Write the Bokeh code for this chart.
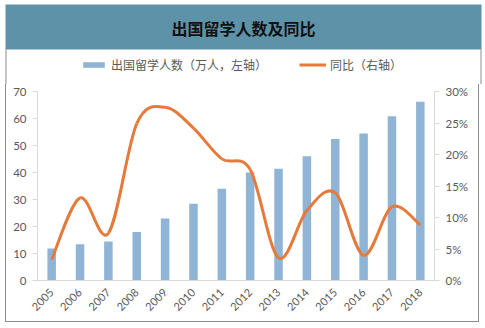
import math
from bokeh.plotting import figure
from bokeh.models import (FactorRange, Range1d, LinearAxis, FixedTicker,
                          Legend, LegendItem, ColumnDataSource, NumeralTickFormatter)
from bokeh.core.properties import value
from bokeh.embed import file_html
from bokeh.resources import INLINE

years = ["2005", "2006", "2007", "2008", "2009", "2010", "2011", "2012",
         "2013", "2014", "2015", "2016", "2017", "2018"]
students = [11.85, 13.4, 14.4, 17.98, 22.93, 28.47, 33.97, 39.96,
            41.39, 45.98, 52.37, 54.45, 60.84, 66.21]
yoy = [0.033, 0.131, 0.075, 0.249, 0.275, 0.242, 0.193, 0.176,
       0.036, 0.111, 0.139, 0.040, 0.117, 0.088]
left_ticks = [0, 10, 20, 30, 40, 50, 60, 70]
right_ticks = [0, 0.05, 0.10, 0.15, 0.20, 0.25, 0.30]

title_text = "出国留学人数及同比"
bar_label = "出国留学人数（万人，左轴）"
line_label = "同比（右轴）"

BAR_COLOR = "#8FB4D6"
LINE_COLOR = "#E57A3A"
BORDER = "#8C8C8C"
TEXT_GRAY = "#595959"
CJK = "Noto Sans CJK SC"

# ---------------- header: title band + legend ----------------
header = figure(width=485, height=84, x_range=Range1d(0, 485), y_range=Range1d(84, 0),
                output_backend="svg", toolbar_location=None,
                min_border_left=0, min_border_right=0, min_border_top=0, min_border_bottom=0,
                x_axis_location=None, y_axis_location=None)
header.grid.visible = False
header.outline_line_color = None
header.background_fill_color = "white"
header.border_fill_color = "white"
header.quad(left=[5], right=[481], top=[4], bottom=[49], fill_color="#5E92A8", line_color=None)
header.segment(x0=[5.5, 480.5], y0=[49, 49], x1=[5.5, 480.5], y1=[84, 84],
               line_color=BORDER, line_width=1)
header.text(x=[243], y=[27], text=[title_text], text_align="center", text_baseline="middle",
            text_font=value(CJK), text_font_style="bold", text_font_size="16px",
            text_color="#111111")
# legend proxies (kept outside the visible header range)
leg_bar = header.vbar(x=[-100], top=[-100], bottom=[-110], width=1,
                      fill_color=BAR_COLOR, line_color=None)
leg_line = header.line(x=[-110, -100], y=[-100, -100], line_color=LINE_COLOR, line_width=3)
legend = Legend(items=[LegendItem(label=bar_label, renderers=[leg_bar]),
                       LegendItem(label=line_label, renderers=[leg_line])],
                orientation="horizontal", location=(80, 11),
                background_fill_alpha=0, border_line_color=None,
                glyph_width=27, glyph_height=7, label_standoff=4, spacing=32,
                padding=0, margin=0, label_height=14,
                label_text_font=CJK, label_text_font_size="12px",
                label_text_color=TEXT_GRAY)
header.add_layout(legend)

# ---------------- main chart ----------------
p = figure(width=474, height=238, x_range=FactorRange(*years), y_range=Range1d(0, 70),
           output_backend="svg", toolbar_location=None,
           min_border_left=31, min_border_right=46, min_border_top=7, min_border_bottom=42,
           styles={"border-left": f"1px solid {BORDER}", "border-right": f"1px solid {BORDER}",
                   "border-bottom": f"1px solid {BORDER}", "margin-left": "5px"})
p.background_fill_color = "white"
p.border_fill_color = "white"
p.outline_line_color = None
p.grid.visible = False
p.extra_y_ranges = {"pct": Range1d(0, 0.30)}

p.vbar(x=years, top=students, width=0.3, fill_color=BAR_COLOR, line_color=None)

# smoothed line: bezier segments whose control points are derived from the data
xs = [i + 0.5 for i in range(len(years))]
n = len(xs)
seg = {k: [] for k in ("x0", "y0", "x1", "y1", "cx0", "cy0", "cx1", "cy1")}
for i in range(n - 1):
    im1 = max(i - 1, 0)
    ip2 = min(i + 2, n - 1)
    seg["x0"].append(xs[i]); seg["y0"].append(yoy[i])
    seg["x1"].append(xs[i + 1]); seg["y1"].append(yoy[i + 1])
    seg["cx0"].append(xs[i] + (xs[i + 1] - xs[im1]) / 6)
    seg["cy0"].append(yoy[i] + (yoy[i + 1] - yoy[im1]) / 6)
    seg["cx1"].append(xs[i + 1] - (xs[ip2] - xs[i]) / 6)
    seg["cy1"].append(yoy[i + 1] - (yoy[ip2] - yoy[i]) / 6)
p.bezier(x0="x0", y0="y0", x1="x1", y1="y1", cx0="cx0", cy0="cy0", cx1="cx1", cy1="cy1",
         source=ColumnDataSource(seg), line_color=LINE_COLOR, line_width=3, y_range_name="pct")

tick_font = "Lato"
yl = p.yaxis[0]
yl.ticker = FixedTicker(ticks=left_ticks)
yr = LinearAxis(y_range_name="pct", ticker=FixedTicker(ticks=right_ticks),
                formatter=NumeralTickFormatter(format="0%"))
p.add_layout(yr, "right")
for ax in (yl, yr):
    ax.axis_line_color = "#D9D9D9"
    ax.major_tick_line_color = "#D9D9D9"
    ax.major_tick_out = 5
    ax.major_tick_in = 0
    ax.minor_tick_line_color = None
    ax.major_label_text_font = tick_font
    ax.major_label_text_font_size = "11.5px"
    ax.major_label_text_color = TEXT_GRAY
    ax.major_label_standoff = 6
xa = p.xaxis[0]
xa.axis_line_color = "#D9D9D9"
xa.major_tick_line_color = None
xa.minor_tick_line_color = None
xa.major_label_orientation = math.pi / 4
xa.major_label_text_font = tick_font
xa.major_label_text_font_size = "11px"
xa.major_label_text_color = TEXT_GRAY
xa.major_label_standoff = 4

open("out.html", "w").write(file_html([header, p], INLINE))
